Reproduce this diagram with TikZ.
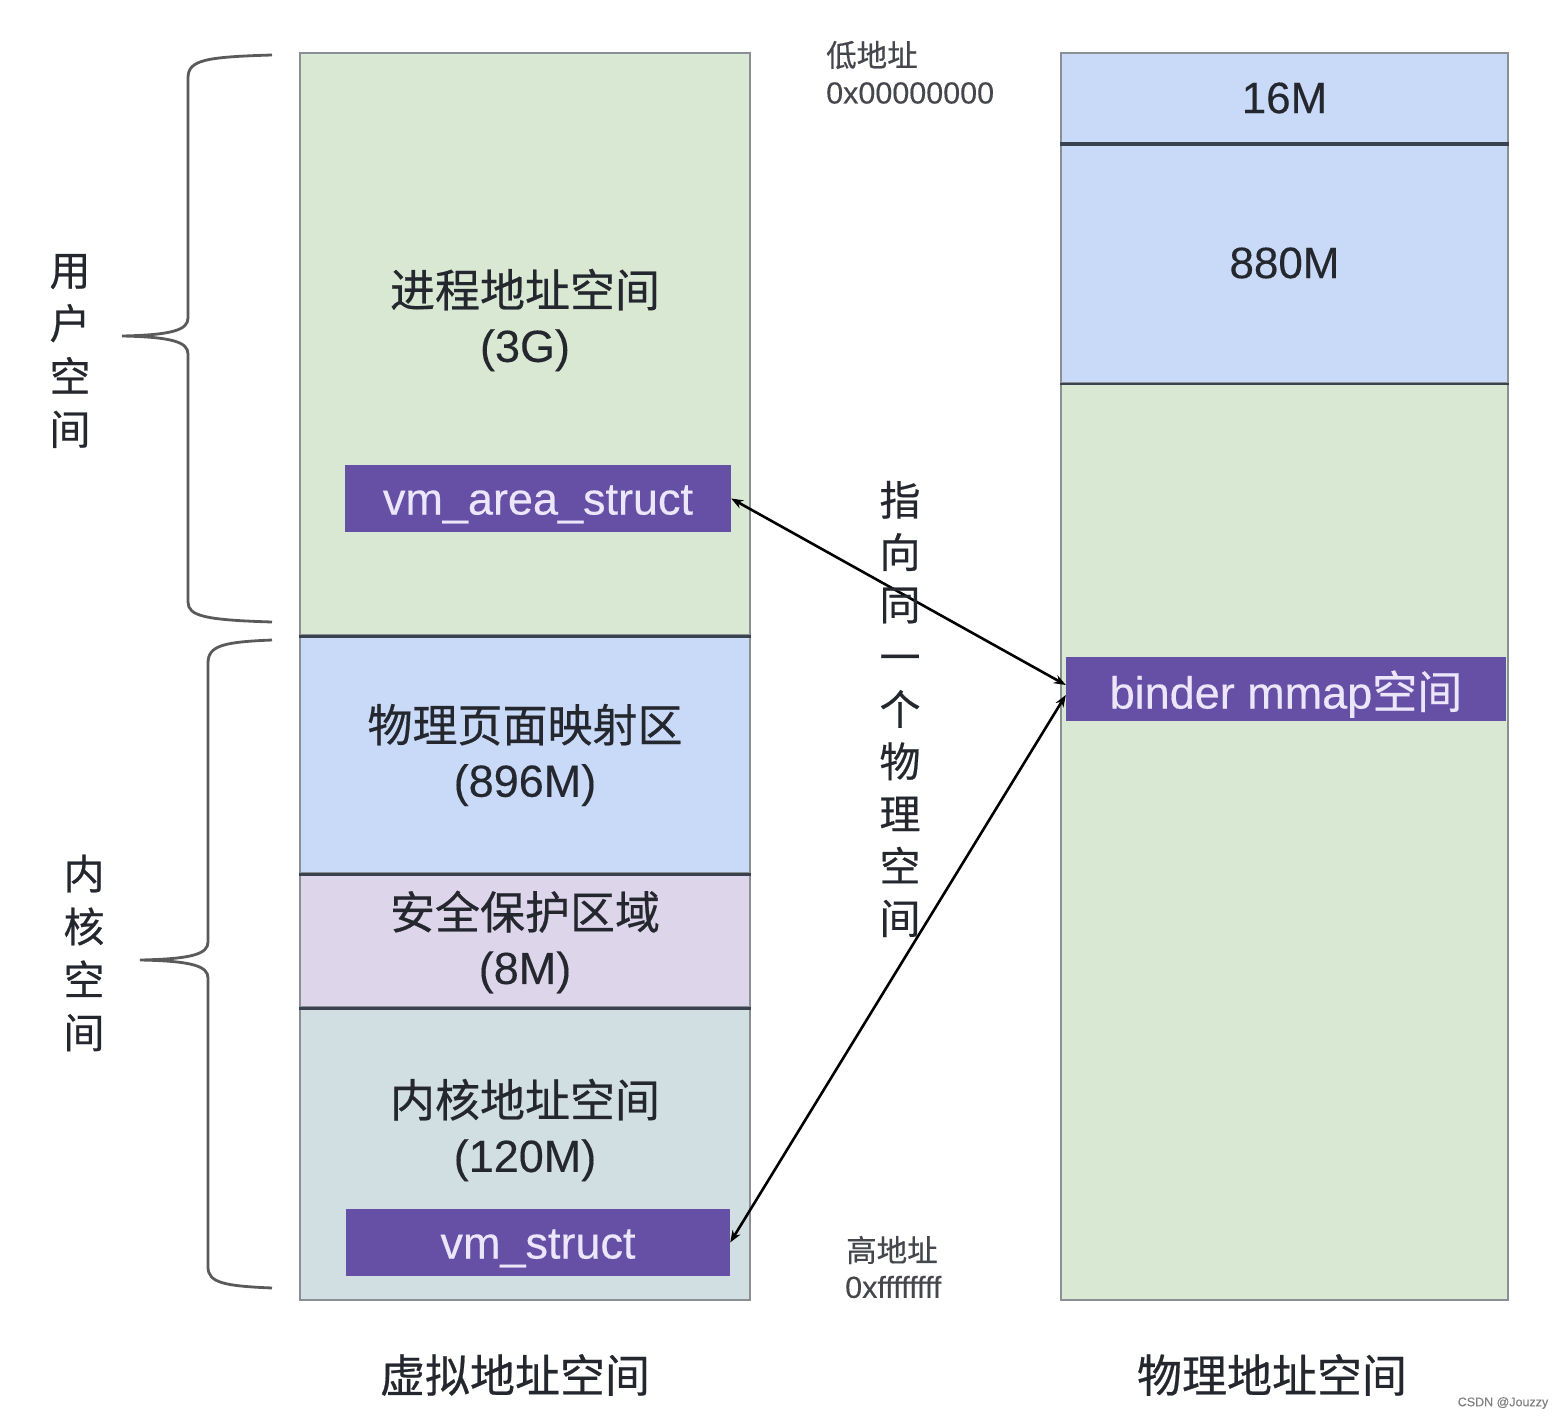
\documentclass[tikz,border=0pt]{standalone}
\usepackage{fontspec}
\setmainfont[FakeBold=0.3]{Liberation Sans}
\newfontfamily\cjk[FakeBold=0.5]{Noto Sans CJK SC}
\usetikzlibrary{arrows.meta}
\definecolor{greenc}{HTML}{D9E8D3}
\definecolor{bluec}{HTML}{C9DAF8}
\definecolor{lavc}{HTML}{DDD5EA}
\definecolor{tealc}{HTML}{D1DFE3}
\definecolor{purplec}{HTML}{6650A6}
\definecolor{ptext}{HTML}{ECE6FA}
\definecolor{edgec}{HTML}{8A8F94}
\definecolor{darkline}{HTML}{3A4250}
\definecolor{txt}{HTML}{25272E}
\definecolor{bracec}{HTML}{5A5A5A}
\begin{document}
\begin{tikzpicture}[x=1pt,y=-1pt,
  sec/.style={draw=edgec, line width=2.5pt, inner sep=0pt, minimum width=450pt},
  rsec/.style={draw=edgec, line width=2.5pt, inner sep=0pt, minimum width=447pt, text=txt, font=\fontsize{44}{52}\selectfont},
  big/.style={align=center, text=txt, font=\fontsize{45}{55}\selectfont, inner sep=0pt},
  pbox/.style={fill=purplec, draw=none, text=ptext, inner sep=0pt, text depth=2pt, font=\fontsize{45}{50}\selectfont},
  vlabel/.style={align=center, text=txt, font=\cjk\fontsize{41}{53}\selectfont, inner sep=0pt},
  addr/.style={anchor=west, text=txt!85, font=\fontsize{30.5}{32}\selectfont, inner sep=0pt},
  title/.style={text=txt, font=\cjk\fontsize{45}{50}\selectfont, inner sep=0pt},
  link/.style={draw=black, line width=2.6pt, {Stealth[length=12pt,width=9pt]}-{Stealth[length=12pt,width=9pt]}},
  bracel/.style={draw=bracec, line width=2.8pt}]
\useasboundingbox (0,0) rectangle (1561,1420);

% left column
\node[sec, fill=greenc, minimum height=582pt] (user) at (525,344) {};
\node[sec, fill=bluec, minimum height=238pt] (phys) at (525,754) {};
\node[sec, fill=lavc, minimum height=134pt] (guard) at (525,940) {};
\node[sec, fill=tealc, minimum height=293pt] (kern) at (525,1153.5) {};
\draw[darkline, line width=2.5pt] (user.south west) -- (user.south east);
\draw[darkline, line width=2.5pt] (phys.south west) -- (phys.south east);
\draw[darkline, line width=2.5pt] (guard.south west) -- (guard.south east);

\node[big] (t1) at (525,320) {{\cjk 进程地址空间}\\(3G)};
\node[big] (t2) at (525,755) {{\cjk 物理页面映射区}\\(896M)};
\node[big] (t3) at (525,942) {{\cjk 安全保护区域}\\(8M)};
\node[big] (t4) at (525,1130) {{\cjk 内核地址空间}\\(120M)};

\node[pbox, minimum width=386pt, minimum height=67pt] (vma) at (538,498.5) {\raisebox{-5pt}{vm\_area\_struct}};
\node[pbox, minimum width=384pt, minimum height=67pt] (vms) at (538,1242.5) {\raisebox{-5pt}{vm\_struct}};

% right column
\node[rsec, fill=bluec, minimum height=90pt] (m16) at (1284.5,98) {16M};
\node[rsec, fill=bluec, minimum height=240pt] (m880) at (1284.5,263) {880M};
\node[rsec, fill=greenc, minimum height=917pt] (rest) at (1284.5,841.5) {};
\draw[darkline, line width=4pt] (m16.south west) -- (m16.south east);
\draw[darkline, line width=2.5pt] (m880.south west) -- (m880.south east);
\node[pbox, minimum width=440pt, minimum height=64pt] (binder) at (1286,689) {\raisebox{-3pt}{binder mmap{\cjk 空间}}};

% connectors
\draw[link] (vma.east) -- ([yshift=4pt]binder.west);
\draw[link] ([yshift=-6pt]binder.west) -- (vms.east);

% braces
\draw[bracel] (272,55) .. controls (205,57) and (188,60) .. (188,78) -- (188,318)
  .. controls (188,330) and (172,335) .. (122,336)
  .. controls (172,337) and (188,342) .. (188,354) -- (188,602)
  .. controls (188,616) and (205,620) .. (272,622);
\draw[bracel] (272,640) .. controls (225,642) and (208,645) .. (208,663) -- (208,942)
  .. controls (208,954) and (192,959) .. (140,960)
  .. controls (192,961) and (208,966) .. (208,978) -- (208,1267)
  .. controls (208,1283) and (225,1286) .. (272,1288);

% vertical labels
\node[vlabel] (uspace) at (70,351) {用\\户\\空\\间};
\node[vlabel] (kspace) at (84,953) {内\\核\\空\\间};
\node[vlabel, font=\cjk\fontsize{41}{52.3}\selectfont] (same) at (900,709) {指\\向\\同\\一\\个\\物\\理\\空\\间};

% addresses
\node[addr] (lowc) at (826,55) {\cjk 低地址};
\node[addr] (lowa) at (826,93) {0x00000000};
\node[addr] (highc) at (846,1250) {\cjk 高地址};
\node[addr] (higha) at (845,1287) {0xffffffff};

% titles
\node[title] (vtitle) at (515,1375) {虚拟地址空间};
\node[title] (ptitle) at (1272,1375) {物理地址空间};
\node[text=gray, font=\fontsize{12.5}{14}\selectfont, inner sep=0pt] (wm) at (1503,1403) {CSDN @Jouzzy};
\end{tikzpicture}
\end{document}
